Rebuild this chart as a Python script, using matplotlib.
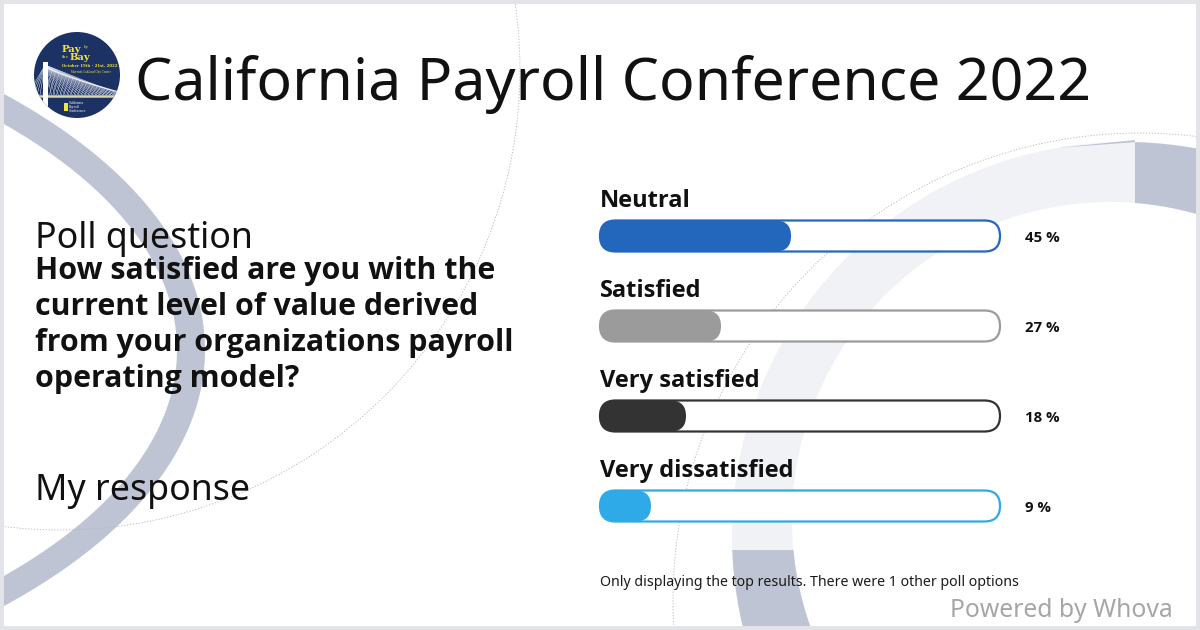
import numpy as np
import matplotlib
matplotlib.use("Agg")
import matplotlib.pyplot as plt
from matplotlib.patches import Circle, Rectangle, FancyBboxPatch, Polygon, PathPatch
from matplotlib.path import Path

# ---------------- data ----------------
title = "California Payroll Conference 2022"
poll_heading = "Poll question"
question_lines = [
    "How satisfied are you with the",
    "current level of value derived",
    "from your organizations payroll",
    "operating model?",
]
response_heading = "My response"
options = ["Neutral", "Satisfied", "Very satisfied", "Very dissatisfied"]
percents = [45, 27, 18, 9]
bar_colors = ["#2367bd", "#9b9b9b", "#333333", "#2eaae8"]
footnote = "Only displaying the top results. There were 1 other poll options"
branding = "Powered by Whova"

W, H = 1200, 630
FONT = ["Noto Sans", "DejaVu Sans"]
FONT_W = ["Open Sans", "Noto Sans", "DejaVu Sans"]

fig = plt.figure(figsize=(12, 6.3), dpi=100)
fig.patch.set_facecolor("white")
ax = fig.add_axes([0, 0, 1, 1])
ax.set_xlim(0, W)
ax.set_ylim(H, 0)
ax.axis("off")

LIGHT = "#f1f2f5"
DARK = "#bec4d3"


def ring_path(c_out, ax_out, c_in, ax_in, n=800):
    t = np.linspace(0, 2 * np.pi, n)
    outer = np.column_stack([c_out[0] + ax_out[0] * np.cos(t), c_out[1] + ax_out[1] * np.sin(t)])
    inner = np.column_stack([c_in[0] + ax_in[0] * np.cos(t[::-1]), c_in[1] + ax_in[1] * np.sin(t[::-1])])
    verts = np.vstack([outer, inner])
    codes = np.full(len(verts), Path.LINETO)
    codes[0] = Path.MOVETO
    codes[n] = Path.MOVETO
    return Path(verts, codes)


# ---------------- background decorations ----------------
RC_OUT, RR_OUT = (1125, 535), 393
RC_IN, RR_IN = (1110, 520), 318
rp = ring_path(RC_OUT, (RR_OUT, RR_OUT), RC_IN, (RR_IN, RR_IN))
ax.add_patch(PathPatch(rp, fc=LIGHT, ec="none", zorder=1))

dark_top = PathPatch(rp, fc=DARK, ec="none", zorder=2)
ax.add_patch(dark_top)
dark_top.set_clip_path(Rectangle((1135, 0), 70, 420, transform=ax.transData))

dark_bot = PathPatch(rp, fc=DARK, ec="none", zorder=2)
ax.add_patch(dark_bot)
dark_bot.set_clip_path(Rectangle((0, 550), 1000, 90, transform=ax.transData))


def y_outer(x):
    return RC_OUT[1] - np.sqrt(RR_OUT ** 2 - (x - RC_OUT[0]) ** 2)


ax.add_patch(Polygon([(1057, y_outer(1057)), (1135, 140), (1135, y_outer(1135))],
                     closed=True, fc=DARK, ec="none", zorder=2))

# left ring (slightly elliptic)
lp = ring_path((-565, 350), (770, 380), (-565, 350), (742, 352))
ax.add_patch(PathPatch(lp, fc=DARK, ec="none", zorder=1))

# thin dotted circles
ax.add_patch(Circle((60, 70), 460, fill=False, ec="#b4b4b8", lw=0.6,
                    ls=(0, (1.5, 2.0)), zorder=1.5))
ax.add_patch(Circle((1140, 600), 467, fill=False, ec="#b4b4b8", lw=0.6,
                    ls=(0, (1.5, 2.0)), zorder=1.5))

# ---------------- logo ----------------
lc, lr = (77, 75), 43
ax.add_patch(Circle(lc, lr, fc="#1c3264", ec="none", zorder=6))
clipc = Circle(lc, lr, transform=ax.transData)
logo_arts = []
for xe in np.arange(48, 124, 3.5):
    l, = ax.plot([45, xe], [65, 95], color="#cfd5e3", lw=0.4, zorder=7)
    logo_arts.append(l)
for xs in np.arange(52, 124, 3.5):
    l, = ax.plot([xs, xs - 6], [66 + 27 * ((xs - 45) / 77) ** 0.8, 95], color="#cfd5e3",
                 lw=0.35, zorder=7)
    logo_arts.append(l)
for xe in np.arange(28, 44, 3):
    l, = ax.plot([45, xe], [65, 95], color="#cfd5e3", lw=0.4, zorder=7)
    logo_arts.append(l)
cx = np.linspace(45, 122, 50)
l, = ax.plot(cx, 66 + 27 * ((cx - 45) / 77) ** 0.8, color="#f3f4f8", lw=0.9, zorder=7)
logo_arts.append(l)
l, = ax.plot([30, 124], [96, 96], color="#d8d6a8", lw=1.8, zorder=7)
logo_arts.append(l)
r = Rectangle((42.5, 62), 5, 48, fc="white", ec="none", zorder=8)
ax.add_patch(r)
logo_arts.append(r)
r = Rectangle((64, 102.5), 3.5, 8, fc="#f2e53b", ec="none", zorder=8)
ax.add_patch(r)
logo_arts.append(r)
for a in logo_arts:
    a.set_clip_path(clipc)

YEL = "#f0e440"
SERIF = ["DejaVu Serif"]
ax.text(62, 51.5, "Pay", fontsize=7.2, family=SERIF, weight="bold", color=YEL, zorder=9)
ax.text(83.5, 48, "by", fontsize=3.0, family=SERIF, color=YEL, zorder=9)
ax.text(62, 58.5, "the", fontsize=3.0, family=SERIF, color=YEL, zorder=9)
ax.text(70, 60, "Bay", fontsize=7.2, family=SERIF, weight="bold", color=YEL, zorder=9)
ax.text(61.5, 66.5, "October 19th - 21st, 2022", fontsize=2.8, family=SERIF,
        weight="bold", color=YEL, zorder=9)
ax.text(71, 72.5, "Marriott Oakland City Center", fontsize=1.9, family=SERIF,
        color=YEL, zorder=9)
ax.text(69, 104.5, "California", fontsize=2.2, family=SERIF, color="white", zorder=9)
ax.text(69, 108, "Payroll", fontsize=2.2, family=SERIF, color="white", zorder=9)
ax.text(69, 111.5, "Conference", fontsize=2.2, family=SERIF, color="white", zorder=9)

# ---------------- texts ----------------
ax.text(135, 100, title, fontsize=42.5, family=FONT, color="#111111", va="baseline", zorder=10)
ax.text(35, 248, poll_heading, fontsize=25.7, family=FONT, color="#111111",
        va="baseline", zorder=10)
for k, line in enumerate(question_lines):
    ax.text(35, 279 + 36 * k, line, fontsize=21.9, family=FONT_W, weight="bold",
            color="#111111", va="baseline", zorder=10)
ax.text(35, 500, response_heading, fontsize=25.7, family=FONT, color="#111111",
        va="baseline", zorder=10)

# ---------------- bars ----------------
bax = fig.add_axes([616 / W, 1 - 551 / H, 389 / W, 360 / H])
bax.set_xlim(0, 100)
bax.set_ylim(len(options) - 0.5, -0.5)
bax.axis("off")
bax.patch.set_alpha(0)

to_px = lambda pt: ax.transData.inverted().transform(bax.transData.transform(pt))
track_left, track_right, bh = 600, 1000, 31

for i, (opt, v, col) in enumerate(zip(options, percents, bar_colors)):
    x_end, yc = to_px((v, i))
    ax.add_patch(FancyBboxPatch((track_left, yc - bh / 2), track_right - track_left, bh,
                                boxstyle=f"round,pad=0,rounding_size={bh/2}",
                                fc="white", ec=col, lw=1.6, zorder=10))
    ax.add_patch(FancyBboxPatch((track_left, yc - bh / 2), x_end - track_left, bh,
                                boxstyle=f"round,pad=0,rounding_size={bh/2}",
                                fc=col, ec="none", zorder=11))
    ax.text(600, yc - 29, opt, fontsize=17, family=FONT_W, weight="bold", color="#111111",
            va="baseline", zorder=12)
    ax.text(1025, yc, f"{v} %", fontsize=10.8, family=FONT_W, weight="bold", color="#111111",
            va="center_baseline", zorder=12)

ax.text(600, 586, footnote, fontsize=10.2, family=FONT, color="#1a1a1a", va="baseline", zorder=12)
ax.text(1173, 617, branding, fontsize=17.8, family=FONT, color="#a6a6a6", ha="right",
        va="baseline", zorder=12)

# ---------------- frame ----------------
FR = "#e2e4e8"
for (x, y, w, h) in [(0, 0, W, 4), (0, H - 4, W, 4), (0, 0, 4, H), (W - 4, 0, 4, H)]:
    ax.add_patch(Rectangle((x, y), w, h, fc=FR, ec="none", zorder=30))

fig.savefig("out.png", dpi=100, facecolor="white")
